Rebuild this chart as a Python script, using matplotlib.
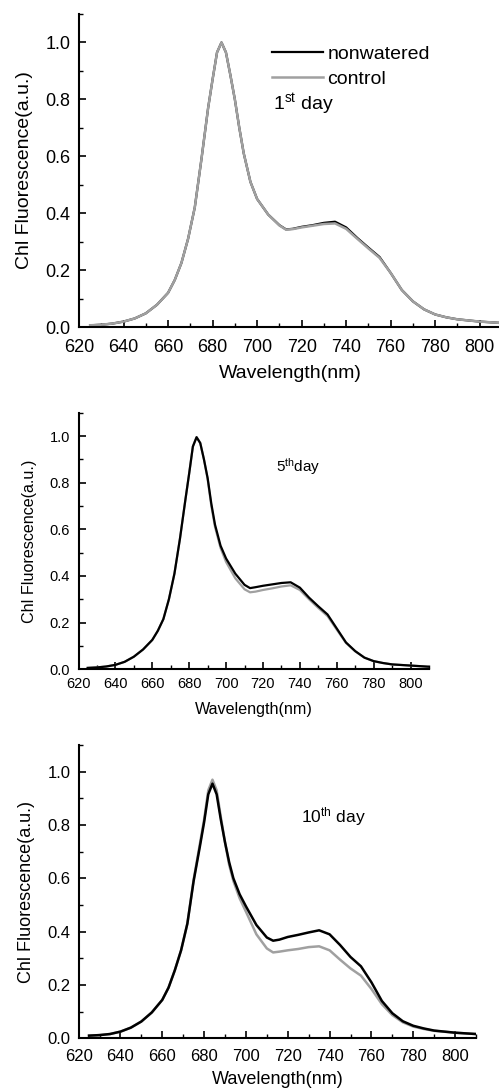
import matplotlib
matplotlib.use("Agg")
import matplotlib.pyplot as plt
from matplotlib.ticker import MultipleLocator

plt.rcParams['font.family'] = ['Liberation Sans', 'DejaVu Sans']
plt.rcParams['mathtext.fontset'] = 'custom'
plt.rcParams['mathtext.rm'] = 'Liberation Sans'
plt.rcParams['mathtext.it'] = 'Liberation Sans:italic'

# wavelength grid (nm)
wl = [625, 630, 635, 640, 645, 650, 655,
      660, 663, 666, 669, 672, 675, 678, 680, 682, 684,
      686, 688, 690, 692, 694, 697, 700, 705, 710,
      713, 716, 720, 725, 730, 735, 740, 745, 750, 755, 760, 765, 770, 775, 780, 785, 790, 800, 810]

# 1st day
d1_dry = [0.006, 0.008, 0.012, 0.019, 0.03, 0.048, 0.078,
          0.12, 0.165, 0.225, 0.31, 0.42, 0.59, 0.77, 0.87, 0.965, 1.0,
          0.965, 0.885, 0.80, 0.70, 0.61, 0.51, 0.45, 0.395, 0.358,
          0.343, 0.345, 0.352, 0.358, 0.366, 0.370, 0.350, 0.313, 0.279, 0.246, 0.19, 0.13,
          0.09, 0.062, 0.044, 0.034, 0.027, 0.019, 0.014]
d1_ctrl = [0.006, 0.008, 0.012, 0.019, 0.03, 0.048, 0.078,
           0.12, 0.165, 0.225, 0.31, 0.42, 0.59, 0.77, 0.87, 0.965, 1.0,
           0.965, 0.885, 0.80, 0.70, 0.61, 0.51, 0.45, 0.395, 0.357,
           0.342, 0.344, 0.350, 0.356, 0.362, 0.364, 0.345, 0.310, 0.276, 0.243, 0.19, 0.13,
           0.09, 0.062, 0.044, 0.034, 0.027, 0.019, 0.014]

# 5th day
d5_dry = [0.006, 0.008, 0.012, 0.019, 0.032, 0.054, 0.085,
          0.126, 0.165, 0.215, 0.30, 0.41, 0.56, 0.73, 0.84, 0.955, 0.995,
          0.97, 0.90, 0.82, 0.71, 0.62, 0.53, 0.475, 0.41, 0.362,
          0.348, 0.352, 0.358, 0.364, 0.370, 0.373, 0.350, 0.307, 0.270, 0.235, 0.175, 0.115,
          0.078, 0.05, 0.035, 0.027, 0.021, 0.016, 0.011]
d5_ctrl = [0.006, 0.008, 0.012, 0.019, 0.032, 0.054, 0.085,
           0.126, 0.165, 0.215, 0.30, 0.41, 0.56, 0.73, 0.84, 0.955, 0.995,
           0.97, 0.90, 0.815, 0.70, 0.61, 0.52, 0.46, 0.39, 0.343,
           0.330, 0.333, 0.340, 0.347, 0.355, 0.360, 0.340, 0.300, 0.263, 0.228, 0.170, 0.113,
           0.077, 0.05, 0.035, 0.027, 0.021, 0.016, 0.011]

# 10th day
d10_dry = [0.01, 0.012, 0.016, 0.025, 0.04, 0.063, 0.097,
           0.144, 0.19, 0.255, 0.33, 0.43, 0.59, 0.72, 0.81, 0.915, 0.955,
           0.915, 0.82, 0.735, 0.66, 0.60, 0.54, 0.495, 0.425, 0.378,
           0.366, 0.370, 0.380, 0.388, 0.397, 0.405, 0.390, 0.350, 0.305, 0.270, 0.210, 0.140,
           0.094, 0.064, 0.047, 0.037, 0.029, 0.021, 0.016]
d10_ctrl = [0.01, 0.012, 0.016, 0.025, 0.04, 0.063, 0.097,
            0.144, 0.19, 0.255, 0.33, 0.43, 0.595, 0.73, 0.82, 0.93, 0.97,
            0.93, 0.83, 0.735, 0.65, 0.59, 0.525, 0.475, 0.39, 0.337,
            0.322, 0.325, 0.330, 0.335, 0.342, 0.345, 0.330, 0.295, 0.262, 0.235, 0.185, 0.128,
            0.087, 0.060, 0.044, 0.035, 0.028, 0.021, 0.016]

W, H = 499, 1089
fig = plt.figure(figsize=(W / 100, H / 100), dpi=100)


def make_axes(left, right, top, bottom):
    return fig.add_axes([left / W, 1 - bottom / H, (right - left) / W, (bottom - top) / H])


def style(ax, tick_fs, label_fs, xpad, xlabpad, ylabpad):
    ax.set_xlim(620, 810)
    ax.set_ylim(0, 1.1)
    ax.spines['top'].set_visible(False)
    ax.spines['right'].set_visible(False)
    ax.spines['left'].set_linewidth(1.5)
    ax.spines['bottom'].set_linewidth(1.5)
    ax.xaxis.set_major_locator(MultipleLocator(20))
    ax.xaxis.set_minor_locator(MultipleLocator(10))
    ax.yaxis.set_minor_locator(MultipleLocator(0.1))
    ax.set_yticks([0, 0.2, 0.4, 0.6, 0.8, 1.0])
    ax.yaxis.set_major_formatter(lambda v, p: f"{v:.1f}")
    ax.tick_params(which='major', direction='in', length=5, width=1.2, labelsize=tick_fs)
    ax.tick_params(which='minor', direction='in', length=3, width=1.0)
    ax.tick_params(axis='x', which='major', pad=xpad)
    ax.tick_params(axis='y', which='major', pad=6)
    ax.set_xlabel("Wavelength(nm)", fontsize=label_fs, labelpad=xlabpad)
    ax.set_ylabel("Chl Fluorescence(a.u.)", fontsize=label_fs, labelpad=ylabpad)


grey = '#a0a0a0'

ax1 = make_axes(79, 502, 14, 327)
ax1.plot(wl, d1_dry, color='black', lw=1.6, label='nonwatered')
ax1.plot(wl, d1_ctrl, color=grey, lw=1.8, label='control')
style(ax1, 13, 14, 8.3, 6.5, 9)
ax1.legend(loc='upper left', bbox_to_anchor=(272 / W, 1 - 45 / H), bbox_transform=fig.transFigure,
           frameon=False, fontsize=14, handlelength=2.6, handletextpad=0.25,
           labelspacing=0.4, borderpad=0, borderaxespad=0)
fig.text(273 / W, 1 - 104 / H, r"1$^{\mathrm{st}}$ day", fontsize=14, va='center', ha='left')

ax2 = make_axes(78.5, 429, 412.7, 669.3)
ax2.plot(wl, d5_ctrl, color=grey, lw=1.6)
ax2.plot(wl, d5_dry, color='black', lw=1.6)
style(ax2, 10.5, 11.6, 5.5, 8, 9)
fig.text(276 / W, 1 - 467 / H, r"5$^{\mathrm{th}}$day", fontsize=11, va='center', ha='left')

ax3 = make_axes(78.6, 476, 745, 1038.3)
ax3.plot(wl, d10_ctrl, color=grey, lw=1.8)
ax3.plot(wl, d10_dry, color='black', lw=1.8)
style(ax3, 12, 13, 7.5, 5.5, 9)
fig.text(301 / W, 1 - 817 / H, r"10$^{\mathrm{th}}$ day", fontsize=12.5, va='center', ha='left')

fig.savefig("out.png", dpi=100)
